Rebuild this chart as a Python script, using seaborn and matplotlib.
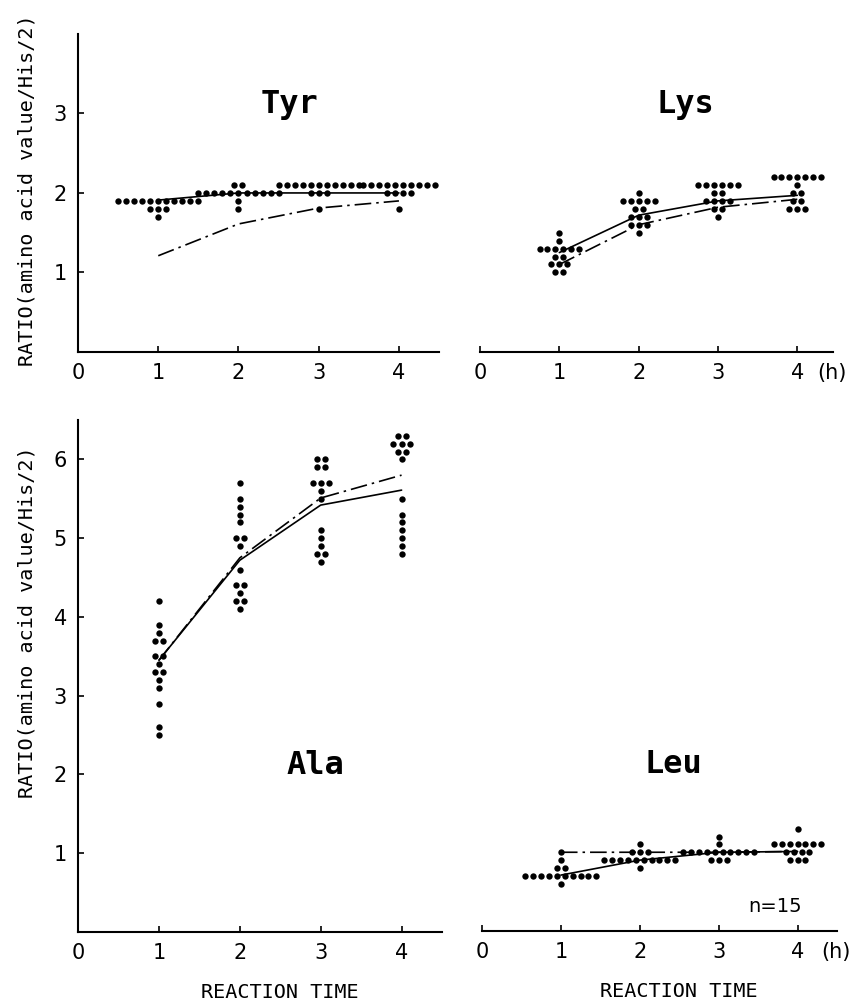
import numpy as np
import pandas as pd
import matplotlib
matplotlib.use("Agg")
import matplotlib.pyplot as plt
import seaborn as sns

# ======================
# data (n=15 per time point)
# dot rows: time, ratio value, number of dots sitting at that value
# ======================
times = [1, 2, 3, 4]
x_ticks = [0, 1, 2, 3, 4]

tyr_dot_time = [1, 1, 1, 2, 2, 2, 2, 3, 3, 3, 4, 4, 4]
tyr_dot_value = [1.9, 1.8, 1.7, 2.1, 2.0, 1.9, 1.8, 2.1, 2.0, 1.8, 2.1, 2.0, 1.8]
tyr_dot_count = [11, 3, 1, 2, 11, 1, 1, 11, 3, 1, 10, 4, 1]
tyr_solid = [1.91, 2.0, 2.0, 2.0]
tyr_dashdot = [1.21, 1.61, 1.81, 1.90]

lys_dot_time = [1, 1, 1, 1, 1, 1, 2, 2, 2, 2, 2, 2, 3, 3, 3, 3, 3, 4, 4, 4, 4, 4]
lys_dot_value = [1.5, 1.4, 1.3, 1.2, 1.1, 1.0, 2.0, 1.9, 1.8, 1.7, 1.6, 1.5,
                 2.1, 2.0, 1.9, 1.8, 1.7, 2.2, 2.1, 2.0, 1.9, 1.8]
lys_dot_count = [1, 1, 6, 2, 3, 2, 1, 5, 2, 3, 3, 1, 6, 2, 4, 2, 1, 7, 1, 2, 2, 3]
lys_solid = [1.25, 1.72, 1.90, 1.97]
lys_dashdot = [1.10, 1.60, 1.82, 1.92]

ala_dot_time = [1] * 12 + [2] * 12 + [3] * 10 + [4] * 11
ala_dot_value = [4.2, 3.9, 3.8, 3.7, 3.5, 3.4, 3.3, 3.2, 3.1, 2.9, 2.6, 2.5,
                 5.7, 5.5, 5.4, 5.3, 5.2, 5.0, 4.9, 4.6, 4.4, 4.3, 4.2, 4.1,
                 6.0, 5.9, 5.7, 5.6, 5.5, 5.1, 5.0, 4.9, 4.8, 4.7,
                 6.3, 6.2, 6.1, 6.0, 5.5, 5.3, 5.2, 5.1, 5.0, 4.9, 4.8]
ala_dot_count = [1, 1, 1, 2, 2, 1, 2, 1, 1, 1, 1, 1,
                 1, 1, 1, 1, 1, 2, 1, 1, 2, 1, 2, 1,
                 2, 2, 3, 1, 1, 1, 1, 1, 2, 1,
                 2, 3, 2, 1, 1, 1, 1, 1, 1, 1, 1]
ala_solid = [3.45, 4.72, 5.42, 5.61]
ala_dashdot = [3.45, 4.75, 5.51, 5.80]

leu_dot_time = [1, 1, 1, 1, 1, 2, 2, 2, 2, 3, 3, 3, 3, 4, 4, 4, 4]
leu_dot_value = [1.0, 0.9, 0.8, 0.7, 0.6, 1.1, 1.0, 0.9, 0.8,
                 1.2, 1.1, 1.0, 0.9, 1.3, 1.1, 1.0, 0.9]
leu_dot_count = [1, 1, 2, 10, 1, 1, 3, 10, 1, 1, 1, 10, 3, 1, 7, 4, 3]
leu_solid = [0.71, 0.90, 1.00, 1.01]
leu_dashdot = [1.00, 1.00, 1.00, 1.01]

DOT_STEP = 0.1  # horizontal spacing of equal values (dot-plot layout)


def expand_dots(t, v, c):
    xs, ys = [], []
    for ti, vi, ci in zip(t, v, c):
        off = (np.arange(ci) - (ci - 1) / 2) * DOT_STEP
        xs.extend(ti + off)
        ys.extend([vi] * ci)
    return pd.DataFrame({"time": xs, "ratio": ys})


sns.set_style("ticks")
plt.rcParams["font.family"] = ["DejaVu Sans"]
for key in ("text.color", "axes.labelcolor", "xtick.color", "ytick.color", "axes.edgecolor"):
    plt.rcParams[key] = "black"
mono = "DejaVu Sans Mono"

fig = plt.figure(figsize=(8.52, 10.01), dpi=100)
ax_tyr = fig.add_axes([0.0916, 0.6484, 0.4237, 0.3177])
ax_lys = fig.add_axes([0.5634, 0.6484, 0.4143, 0.3177])
ax_ala = fig.add_axes([0.0916, 0.0689, 0.4272, 0.5115])
ax_leu = fig.add_axes([0.5657, 0.0699, 0.4167, 0.5115])


def draw_panel(ax, t, v, c, solid, dashdot, name, name_x, name_y, xmax, ymax, yticks):
    sns.lineplot(x=times, y=solid, color="black", lw=1.2, ax=ax)
    sns.lineplot(x=times, y=dashdot, color="black", lw=1.2,
                 linestyle=(0, (10, 3, 1.5, 3)), ax=ax)
    dots = expand_dots(t, v, c)
    sns.scatterplot(data=dots, x="time", y="ratio", color="black", s=21,
                    linewidth=0, ax=ax, zorder=3)
    ax.set_xlim(0, xmax)
    ax.set_ylim(0, ymax)
    ax.set_xticks(x_ticks)
    ax.set_xticklabels([str(x) for x in x_ticks])
    ax.set_xlabel("")
    ax.set_ylabel("")
    ax.tick_params(direction="in", length=4, width=1.2, labelsize=15, pad=8)
    for sp in ax.spines.values():
        sp.set_linewidth(1.5)
    if yticks:
        ax.set_yticks(yticks)
        sns.despine(ax=ax)
        ax.set_ylabel("RATIO(amino acid value/His/2)", fontsize=14.5, family=mono)
    else:
        ax.set_yticks([])
        sns.despine(ax=ax, left=True)
        ax.annotate("(h)", xy=(xmax - 0.01, 0), xycoords=("data", "axes fraction"),
                    xytext=(0, -8), textcoords="offset points",
                    ha="center", va="top", fontsize=15)
    ax.text(name_x, name_y, name, ha="center", va="baseline",
            fontsize=23, fontweight="bold", family=mono)


draw_panel(ax_tyr, tyr_dot_time, tyr_dot_value, tyr_dot_count, tyr_solid, tyr_dashdot,
           "Tyr", 2.64, 3.0, 4.5, 4.0, [1, 2, 3])
draw_panel(ax_lys, lys_dot_time, lys_dot_value, lys_dot_count, lys_solid, lys_dashdot,
           "Lys", 2.59, 3.0, 4.45, 4.0, None)
draw_panel(ax_ala, ala_dot_time, ala_dot_value, ala_dot_count, ala_solid, ala_dashdot,
           "Ala", 2.93, 2.0, 4.5, 6.5, [1, 2, 3, 4, 5, 6])
draw_panel(ax_leu, leu_dot_time, leu_dot_value, leu_dot_count, leu_solid, leu_dashdot,
           "Leu", 2.42, 2.0, 4.5, 6.5, None)

ax_tyr.yaxis.set_label_coords(-0.115, 0.51)
ax_ala.yaxis.set_label_coords(-0.115, 0.605)

for ax in (ax_ala, ax_leu):
    ax.set_xlabel("REACTION TIME", fontsize=14.5, family=mono)
    ax.xaxis.set_label_coords(2.5 / 4.5, -0.10)
    ax.xaxis.label.set_va("top")

ax_leu.text(3.71, 0.24, "n=15", ha="center", va="baseline", fontsize=14)

fig.savefig("out.png", dpi=100)
plt.close(fig)
